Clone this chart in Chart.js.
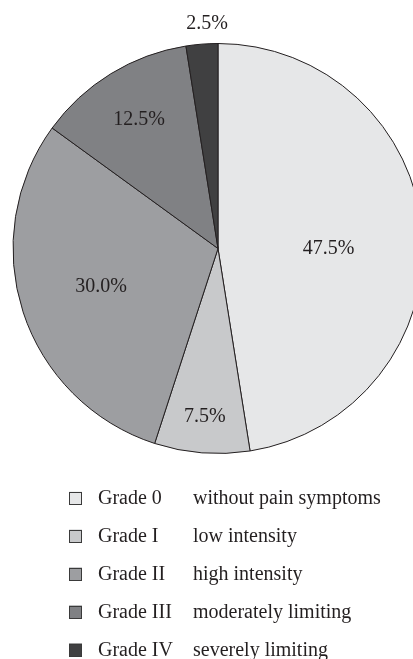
<!DOCTYPE html>
<html>
<head>
<meta charset="utf-8">
<script src="https://cdn.jsdelivr.net/npm/chart.js@4/dist/chart.umd.min.js"></script>
<style>
html, body { margin: 0; padding: 0; overflow: hidden; background: #ffffff; width: 413px; height: 659px; }
#wrap { position: absolute; left: 0; top: 0; width: 436px; height: 659px; }
</style>
</head>
<body>
<div id="wrap"><canvas id="c" width="436" height="659"></canvas></div>
<script>
const grades = ["Grade 0", "Grade I", "Grade II", "Grade III", "Grade IV"];
const descriptions = ["without pain symptoms", "low intensity", "high intensity", "moderately limiting", "severely limiting"];
const percents = [47.5, 7.5, 30.0, 12.5, 2.5];
const sliceColors = ["#e6e7e8", "#c8c9cb", "#9d9ea1", "#808184", "#404041"];

const TEXT = "#231f20";
const FONT = "20px 'Liberation Serif', 'Times New Roman', serif";

const pieLabels = {
  id: "pieLabels",
  afterDatasetsDraw(chart, args, opts) {
    const ctx = chart.ctx;
    const meta = chart.getDatasetMeta(0);
    ctx.save();
    ctx.font = FONT;
    ctx.fillStyle = TEXT;
    ctx.textAlign = "center";
    ctx.textBaseline = "middle";
    meta.data.forEach((arc, i) => {
      const p = arc.getProps(["x", "y", "startAngle", "endAngle", "outerRadius"], true);
      const mid = (p.startAngle + p.endAngle) / 2 + (opts.shift[i] || 0) * Math.PI / 180;
      const r = p.outerRadius * opts.radial[i];
      ctx.fillText(percents[i].toFixed(1) + "%", p.x + Math.cos(mid) * r, p.y + Math.sin(mid) * r);
    });
    ctx.restore();
  }
};

const sideLegend = {
  id: "sideLegend",
  afterDraw(chart, args, opts) {
    const ctx = chart.ctx;
    ctx.save();
    ctx.font = FONT;
    ctx.textBaseline = "middle";
    ctx.textAlign = "left";
    grades.forEach((g, i) => {
      const y = opts.top + i * opts.step;
      ctx.fillStyle = sliceColors[i];
      ctx.fillRect(opts.boxX, y - opts.box / 2, opts.box, opts.box);
      ctx.strokeStyle = "#3a3a3a";
      ctx.lineWidth = 1;
      ctx.strokeRect(opts.boxX + 0.5, Math.round(y - opts.box / 2) + 0.5, opts.box - 1, opts.box - 1);
      ctx.fillStyle = TEXT;
      ctx.fillText(g, opts.textX, y + 1);
      ctx.fillText(descriptions[i], opts.descX, y + 1);
    });
    ctx.restore();
  }
};

new Chart(document.getElementById("c"), {
  type: "pie",
  data: {
    labels: grades,
    datasets: [{
      data: percents,
      backgroundColor: sliceColors,
      borderColor: "#231f20",
      borderWidth: 1
    }]
  },
  options: {
    responsive: false,
    animation: false,
    layout: { padding: { top: 43, bottom: 205, left: 0, right: 0 } },
    plugins: {
      legend: { display: false },
      tooltip: { enabled: false },
      pieLabels: { radial: [0.54, 0.824, 0.60, 0.736, 1.097], shift: [4.5, 0, 0, 0, 1.7] },
      sideLegend: { top: 498, step: 38, boxX: 69, box: 13, textX: 98, descX: 193 }
    }
  },
  plugins: [pieLabels, sideLegend]
});
</script>
</body>
</html>
